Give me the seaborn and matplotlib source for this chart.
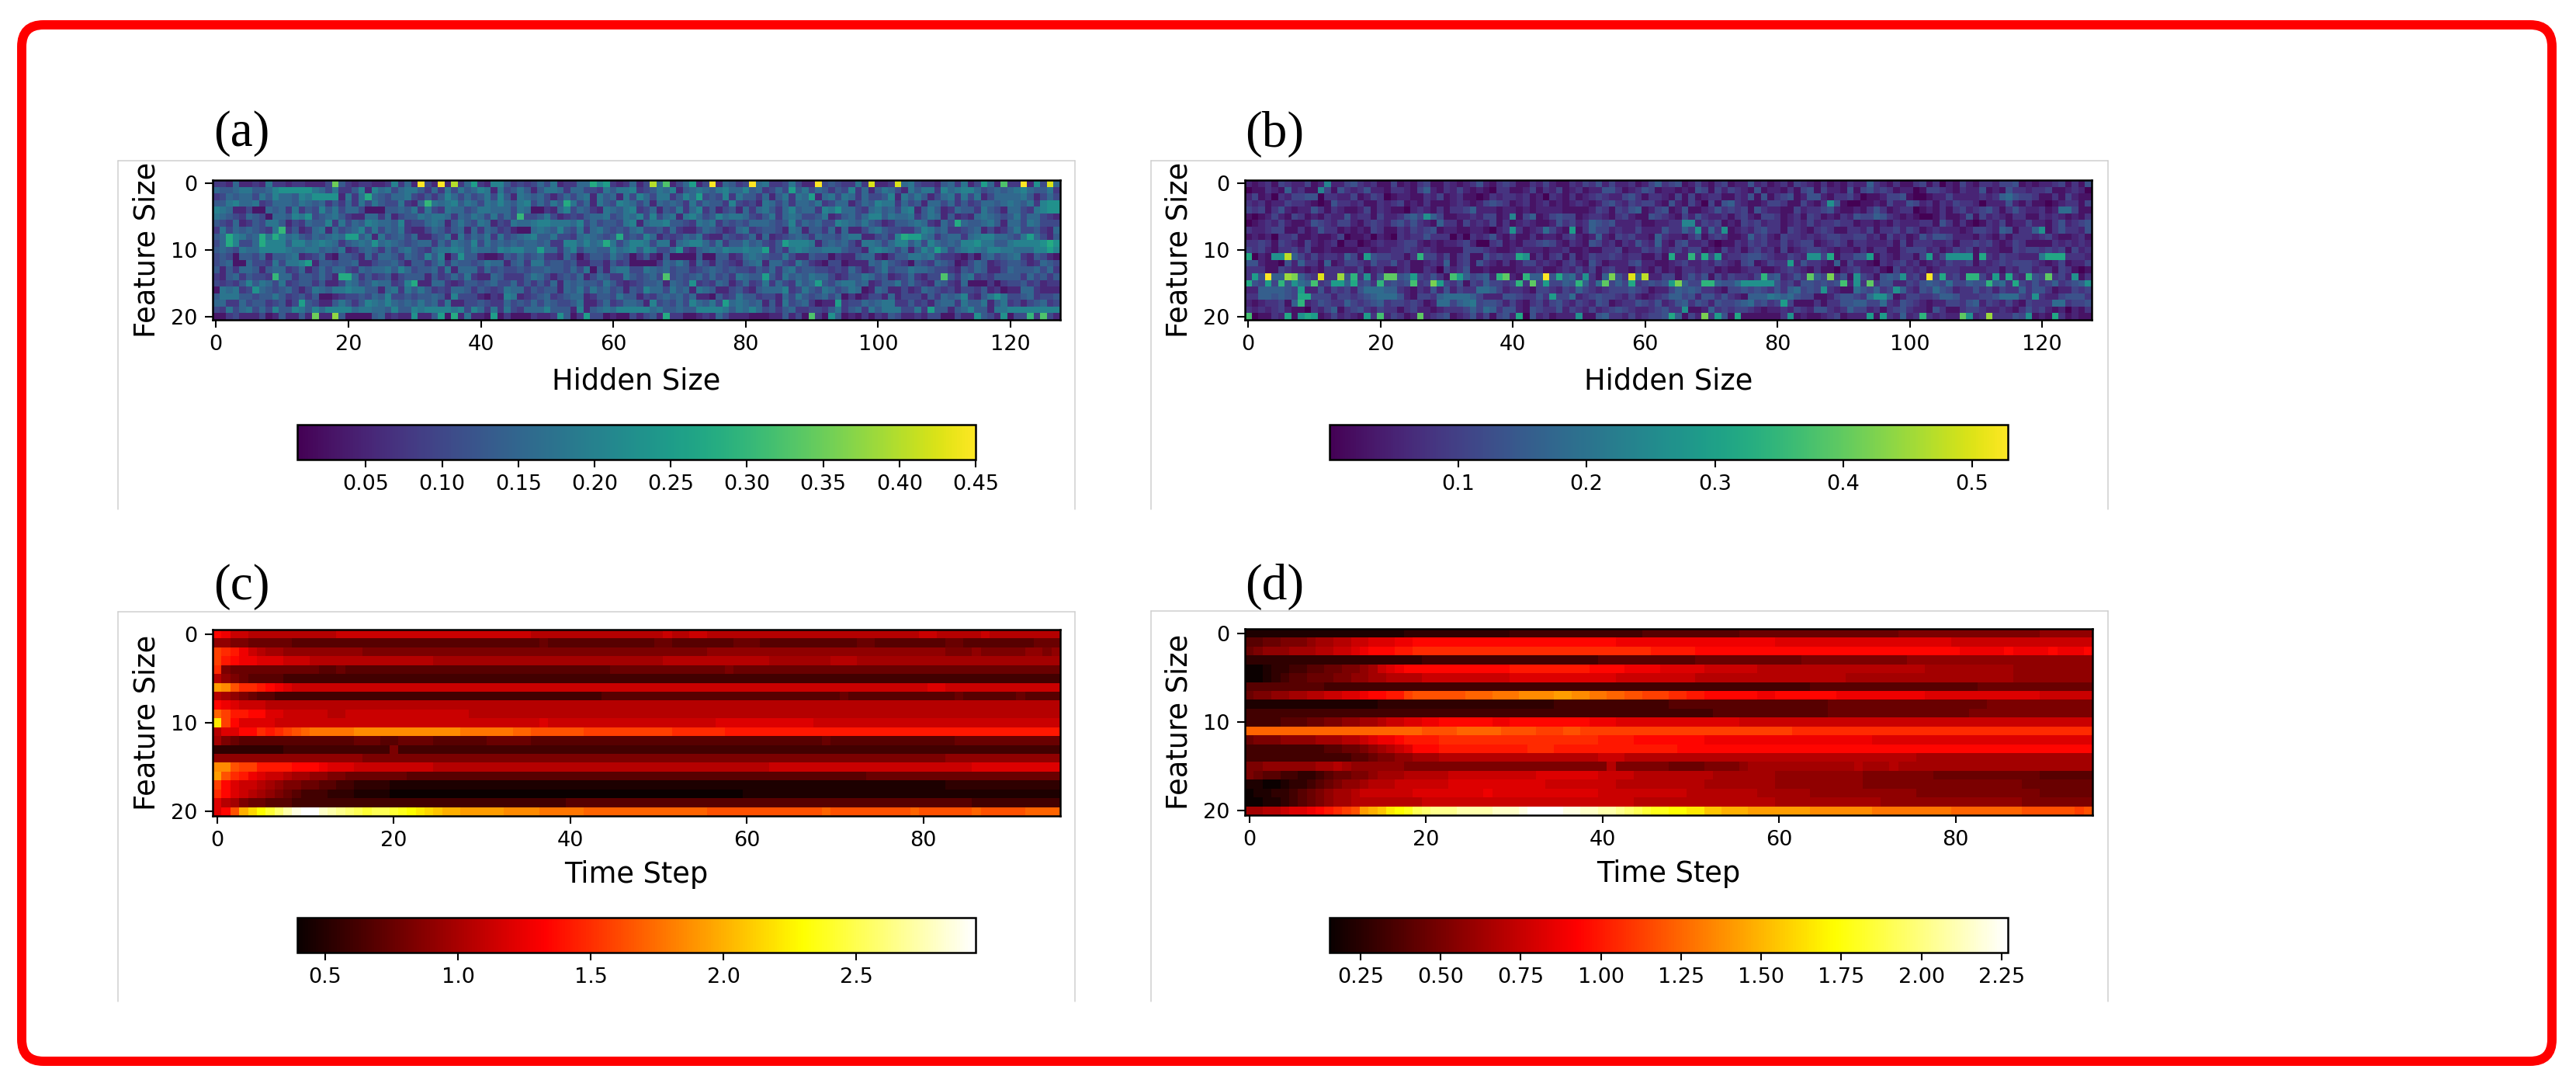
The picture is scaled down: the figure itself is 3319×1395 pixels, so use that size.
"""Recreate the four-panel heatmap figure (hidden states / attention weights)."""

import numpy as np
import matplotlib
matplotlib.use("Agg")
import matplotlib.pyplot as plt
import seaborn as sns
from matplotlib.lines import Line2D
from matplotlib.patches import FancyBboxPatch
from matplotlib.transforms import IdentityTransform

# All cell values. One base-36 character per cell.
# The bright cells in BRIGHT_A / BRIGHT_B are read off; the background speckle in
# ROWS_A / ROWS_B only follows the tone of each row, not every single cell.

W, H = 3319, 1395

HIDDEN_TICKS = [0, 20, 40, 60, 80, 100, 120]
TIME_TICKS = [0, 20, 40, 60, 80]
FEATURE_TICKS = [0, 10, 20]

CBAR_A_TICKS = [0.05, 0.10, 0.15, 0.20, 0.25, 0.30, 0.35, 0.40, 0.45]
CBAR_B_TICKS = [0.1, 0.2, 0.3, 0.4, 0.5]
CBAR_C_TICKS = [0.5, 1.0, 1.5, 2.0, 2.5]
CBAR_D_TICKS = [0.25, 0.50, 0.75, 1.00, 1.25, 1.50, 1.75, 2.00, 2.25]

RANGE_A = (0.005, 0.45)
RANGE_B = (0.0, 0.528)
RANGE_C = (0.395, 2.95)
RANGE_D = (0.153, 2.27)

# panel a: level / 18 of the colour range
ROWS_A = [
    "3326223273 3233222465 3233223836 2342527363 3288534346 4723366284 3236243632 4632432653 4267334742 2845433738 2234674332 5637245627 33625426",
    "6556775568 9999976473 3582867467 7536374756 8727457525 7763664437 5778345768 2567657866 8563464657 4653548362 5764275773 8678864565 67865573",
    "3465664758 6658799992 7372654667 4353586464 5748527656 4246467275 6274864773 5867454837 5536257376 3267476364 4582757524 6737472466 66752464",
    "5578667346 6657656353 6374754473 2647678576 4768657846 4756746275 4876462656 5374655384 3427646366 5734662465 8773645266 4635346656 76573899",
    "8762241165 6373548574 6641115565 7374376645 7766647611 3268465327 6578346254 7368352452 6367536856 6387366436 7564782575 2365537542 66437899",
    "7654365416 6587945675 3226636245 5767763657 6474646445 7423435667 4576848467 2786458677 6435736764 4572356468 8576673576 2523267654 57466432",
    "5436235477 5243655837 4658766583 4467625754 7624376678 8777684645 5478267785 5437673545 4666545846 5644876575 4235567632 6486556752 66476444",
    "3746565437 4352367264 5684746573 2246535626 3653421167 6585473675 4546744536 3224654236 7345542762 5536262246 7544335875 6334562423 57445326",
    "5648756579 8675465676 4557274564 6224572746 5737456785 5744367654 5645486243 4657322543 4626234565 3655467722 4538677763 5663678866 54786425",
    "4668446688 8588678763 5676567654 5663647658 4756565665 6338868674 7468874772 6788647355 7564356888 7256564277 6468857486 5658897755 78888989",
    "5654766888 8766775657 2356536467 5436778757 6658788664 6636846655 8678587446 4325676877 8776353787 6677754427 8764625864 7467876887 76668878",
    "4541554625 5672346215 5426366536 5485814655 2112546456 3326413554 7541352151 1115115523 6765447422 5441322566 2135577674 3321315645 67325421",
    "4561164437 4778125545 5622455642 5535736554 5766256377 4554522442 5341111365 7526425432 5672664375 3214412226 5754315436 5412465234 55423654",
    "5253665256 6346246466 4365667586 4556372666 3645445455 6554647152 6774476564 5534565454 4354636745 5443436423 5745576654 4325465224 65556463",
    "3256354437 6635546426 5635345245 5525346473 2265333576 4245462465 3375456464 5456464537 6552537565 7664235576 4523463244 6536734355 55364535",
    "4343585764 7345535224 7645766348 5226632355 4564463535 3626565547 5323455626 5433436524 6347364375 6354677562 3557464326 5326111313 44534233",
    "1767348654 5642476577 8775526737 5753436653 5434766354 5526574756 4525486647 5627652245 3256668347 5476457612 6522423654 3424435231 22663222",
    "5777554557 5345351123 4454658445 4556528444 2132872345 6345662355 4755243565 6462215347 5534426475 4564613124 4262444253 6568325757 44563445",
    "6633645534 5248542257 5358768656 5756372244 5433645464 6544572246 3466528454 6486574467 6562527456 3122334465 6773353425 6637557257 34245634",
    "4374674648 5587586888 8677665855 8788887848 6373743666 8555282567 6888886755 6558888757 6864535633 4435735637 5777447345 5256855277 88888888",
    "1134222412 5225212245 1111562322 1225312272 2111311132 2335132441 2114245233 3112326422 2111225241 2314512131 3254223244 1142225422 14443242",
]

# (row, column, level)
BRIGHT_A = [
    (0, 18, 14), (0, 31, 18), (0, 34, 18), (0, 36, 16), (0, 39, 10), (0, 57, 11), (0, 59, 10),
    (0, 66, 16), (0, 68, 13), (0, 72, 10), (0, 75, 18), (0, 81, 18), (0, 91, 18), (0, 99, 17),
    (0, 103, 17), (0, 116, 10), (0, 119, 13), (0, 122, 18), (0, 124, 9), (0, 126, 17),
    (20, 15, 14), (20, 18, 15), (20, 30, 9), (20, 34, 10), (20, 36, 11), (20, 42, 10),
    (20, 52, 9), (20, 56, 10), (20, 68, 11), (20, 90, 13), (20, 93, 9), (20, 115, 9),
    (20, 119, 9), (20, 123, 12), (20, 125, 13),
    (2, 23, 11), (3, 32, 12), (5, 46, 12), (3, 53, 11), (7, 10, 12), (8, 2, 11), (9, 2, 11),
    (8, 7, 11), (9, 7, 11), (8, 9, 11), (8, 20, 10), (8, 21, 10), (9, 24, 9), (9, 59, 11),
    (8, 61, 11), (10, 49, 10), (11, 37, 9), (12, 14, 10), (14, 9, 12), (14, 19, 11),
    (14, 20, 11), (15, 30, 11), (16, 6, 9), (18, 13, 10), (1, 87, 10), (2, 90, 10),
    (2, 73, 10), (4, 94, 9), (6, 112, 11), (8, 104, 11), (8, 105, 10), (8, 106, 10),
    (8, 123, 10), (9, 126, 11), (10, 126, 10), (9, 86, 10), (10, 83, 10), (10, 109, 10),
    (10, 70, 9), (14, 68, 13), (14, 110, 13), (14, 83, 10), (15, 91, 10), (15, 72, 9),
    (18, 77, 10), (18, 94, 10), (17, 118, 9), (19, 108, 10),
]

# panel b: level / 20 of the colour range
ROWS_B = [
    "2123143224 1232245323 1141213411 3212352134 3113242113 2435242231 2463451242 1341225231 2314321312 1322632131 1341302142 1332445121 22341315",
    "0113216231 1041532352 2133214621 3242121033 1124132412 3122553123 5412212154 1424321512 2131451422 1514534312 2014432132 2512153323 34112320",
    "2412032445 5033224124 3012211324 1231101323 3231203213 1234322453 1332141412 3311325151 3451255213 3420112445 1001224222 2323675443 11314211",
    "3231224332 1015332311 3234121311 1232124543 1231231212 3212453243 4421521420 4156321124 4311421325 1001121422 5423132433 2022252131 10123314",
    "4341352122 5313211241 3211023213 1334622212 2121222211 1124314356 1245125112 3534341532 2114233452 1121353123 3012131342 3453135322 31277411",
    "1012421431 2132252331 4223564264 1122324412 3146124544 1233213421 1543214253 2231342144 3123143121 3254465321 2100131125 1423213311 32321213",
    "0123242112 5432442134 3245353216 3314232413 1232112534 2365452223 1122333324 3412143423 3123242334 3312212132 2233153131 0132412242 21352345",
    "3223441131 2533121214 3113243451 2211221023 2312374212 1364423224 2225336422 6321232453 3143213431 1332413342 4312322212 4432651336 31353325",
    "1212033411 2112401120 2103233533 3020323521 3113122134 2126214342 2163221351 3431126342 1433232344 3344231423 1253554222 1321313332 34211231",
    "3343143214 2123022012 3223442121 2234200341 2133454213 2154231325 3262145223 1011324342 2423441234 3133222314 1333223133 4342124311 11323232",
    "4342133424 1121111221 2233432321 1114443211 2322212231 1211334122 4342342441 2142313423 1412344321 2213133113 4442312434 1322114344 34341423",
    "8021557642 4233264125 4433132442 4134115343 3421313414 1243343233 1131322332 4123345543 2243245441 3355513213 3146245553 1332433222 87253332",
    "5521105263 3161244325 3352311232 6134153213 1244232134 2153122245 2211234223 2432145124 3312533216 1422103234 2312324334 1323434443 21241224",
    "3331143221 2133322412 3112311320 4235112111 1222311232 4241342213 2131213323 3121123311 2343213110 2342231042 3231233322 2233132442 33143101",
    "3354664664 3233557352 5425654353 1456456252 2136635367 3531645366 4224413535 1424332435 6235336463 5144315655 3425463425 6423243235 45342313",
    "5546475676 4344366453 6454563454 4351436443 4735454465 5637746453 4545336443 3655776555 5342554545 5263635522 4356547446 5536735435 34634563",
    "2266665432 2524342577 7663213252 5243377642 3321443243 6432344454 3122465653 3214454543 5367454332 1175463426 3254754233 5342433635 53122434",
    "3366565422 4442443456 7775214436 7777642225 5433533447 2345443242 1234664525 5353216668 7675441124 5543773612 4433466533 3445777435 32245553",
    "2123341662 3543364345 6344343127 7467845542 4213424532 4325412335 4352356354 2544567453 4541113133 5566447325 4321224435 6243242143 33773445",
    "3232342110 3246134532 4331342212 3334647635 5215433524 3242345432 2345332112 6343443212 2324325532 3644231345 3221531134 4322321353 42120213",
    "2011322135 1124232113 3243121234 5123524145 2105231222 4115633242 3445261422 3151411111 1311211234 1222313326 2323232221 2343335421 21331211",
]

BRIGHT_B = [
    (11, 0, 12), (11, 6, 18), (11, 4, 10), (11, 5, 10), (11, 18, 11), (11, 26, 13), (11, 41, 12),
    (11, 42, 10), (14, 3, 20), (14, 1, 11), (14, 6, 17), (14, 7, 16), (14, 11, 19), (14, 14, 17),
    (14, 16, 13), (14, 18, 10), (14, 21, 15), (14, 22, 15), (14, 25, 11), (14, 31, 14),
    (14, 32, 11), (14, 38, 13), (14, 39, 15), (14, 42, 13), (14, 45, 20), (14, 47, 12),
    (14, 51, 10), (14, 55, 16), (15, 0, 12), (15, 3, 11), (15, 5, 13), (15, 7, 10), (15, 10, 14),
    (15, 13, 11), (15, 14, 11), (15, 16, 12), (15, 20, 13), (15, 25, 14), (15, 28, 16),
    (15, 29, 11), (15, 41, 13), (15, 43, 15), (15, 45, 11), (15, 50, 13), (15, 54, 15),
    (16, 8, 11), (17, 8, 12), (17, 9, 12), (18, 8, 13), (17, 46, 11), (20, 0, 14), (20, 6, 12),
    (20, 8, 10), (20, 9, 12), (20, 10, 11), (20, 18, 11), (20, 20, 14), (20, 26, 15), (20, 41, 12),
    (20, 50, 10), (7, 49, 11), (7, 40, 10), (5, 40, 9), (5, 27, 10), (1, 11, 9), (0, 12, 9),
    (14, 58, 19), (14, 60, 18), (14, 78, 13), (14, 85, 15), (14, 88, 16), (14, 92, 10), (14, 99, 10),
    (14, 103, 20), (14, 105, 12), (14, 109, 13), (14, 110, 13), (14, 113, 11), (14, 115, 12),
    (14, 118, 13), (14, 121, 15), (14, 125, 10), (15, 58, 12), (15, 64, 11), (15, 65, 16),
    (15, 69, 13), (15, 70, 13), (15, 75, 10), (15, 76, 10), (15, 77, 10), (15, 78, 10), (15, 79, 10),
    (15, 90, 14), (15, 92, 10), (15, 94, 15), (15, 112, 13), (15, 116, 12), (15, 127, 10),
    (11, 64, 12), (11, 67, 13), (11, 69, 12), (11, 71, 11), (11, 85, 10), (11, 86, 10), (11, 88, 12),
    (11, 94, 11), (11, 103, 11), (11, 106, 10), (11, 107, 10), (11, 108, 10), (11, 109, 10),
    (11, 111, 12), (11, 121, 12), (11, 122, 12), (11, 123, 12), (20, 64, 12), (20, 69, 16),
    (20, 71, 11), (20, 74, 12), (20, 82, 10), (20, 94, 11), (20, 96, 11), (20, 102, 13), (20, 108, 15),
    (20, 109, 10), (20, 112, 17), (20, 118, 10), (20, 122, 12), (7, 68, 10), (7, 72, 10), (6, 66, 9),
    (6, 67, 9), (3, 88, 10), (18, 81, 11), (19, 66, 10), (12, 82, 11), (7, 120, 10), (16, 87, 10),
    (16, 98, 10), (17, 95, 10), (17, 96, 10), (17, 119, 10),
]

# panels c and d: level / 35 of the colour range
ROWS_C = [
    "dcaa999999 9999aaaaaa aaaaaaaaaa aaaaaa9999 9999999999 9a99aa9999 9999999999 9999999999 aa99999a99 999999",
    "7766555554 4444444444 4444444444 4444444544 4444444444 5544444445 5544444444 4445544444 4445544444 444555",
    "gfeca98877 7777777666 6666666666 6666666666 6666666666 6666667777 7777777777 7777777777 7776667666 667767",
    "gedccbbbaa a999999999 9999988888 8888888888 8888888888 8999999999 9998888888 9998888888 8888888888 888888",
    "f655555555 5544544444 4444444444 4444444444 4444455555 5555555565 5555555555 5555555555 5555555555 555555",
    "9765444433 3333333333 3333333333 3333333333 3333333333 3333333333 3333333333 3333333333 3333333333 333333",
    "lkhffedcba aaaaaaaaaa aaaaaaaaaa aaaaaaaaaa aaaaaaaaaa aaaaaaaaaa aaaaaaaaaa aaaaaaaaaa abbaaaaaaa aaaaaa",
    "9876544333 3333333333 3333333333 3333333333 3333444444 4444444444 4444444444 4544444444 4444544444 454444",
    "dcbaaa9999 9999999999 9999999999 9999999999 9999999999 9999999999 9999999999 9999999999 9999999999 999999",
    "igeeddbbaa aaa99aaaaa aaaaaaaaa9 9999999999 9999999999 9999999999 9999999999 9999999999 9999999999 999999",
    "pgdbbbbaaa aaaaaaaaaa aaaaaaaaaa aaaaaaabaa aaaaaaaaaa aaaaaaabbb bbbbbbbbaa aaaaaaaaaa aaaaaaaaaa aaaaaa",
    "9bbddfefgh ijjjjjkkkk kkkkkkkkjj jjjjiihhhh hhgggggggg ggffffffee eeeeeeeeee eeeeeeeeee eeeeeeeeee eeeeee",
    "8654444444 4444445554 4555544444 4555554444 4444444444 4444444444 4444444445 4444444444 4444555555 555555",
    "2222222233 3333333333 6333333333 3333333333 3333333333 3333333333 3333333333 3333333333 3333333333 333333",
    "7777777777 7777777666 6666666666 6666666666 6666666666 6666666666 6666666666 6666666666 6667777777 777777",
    "kkhggeeeed ddcbbbaaaa aaaaa99999 9999999999 9999999999 9999999999 999aaaaaaa aaaaaaaaaa aaaaaabbbb bbbbbb",
    "lhfecbaa98 8776655555 5544444444 4444444444 4444444444 4444444444 4444444444 4444555555 5555555555 555555",
    "gdbaa98766 5544332222 1111111111 1111111111 1111111111 1111111111 1111111111 1111111111 1112222222 222222",
    "fdba987654 3332221111 0000000000 0000000000 0000000000 0000000000 1111111111 1111111111 1111111111 111111",
    "b986554443 3333333333 3333333333 3333333333 4444444444 4444444444 4444444444 4444444444 4444443333 333333",
    "bdhmoqsuwy zzxwvutstt srqponmmll lllkkkkjjj jjiiiiiiii iiiiiihhhh hhhhhhhhhi hhhhhhhhhi hhhhhhihhh hhiiii",
]

ROWS_D = [
    "1111111111 1111111122 2222222222 3333333333 3333344444 4444445555 5555555555 5555666666 6666666666 777777",
    "4455666788 99aabbbccd dddddddddd dddddddddd ddcccccccc cccccccccc bbbbbbbbbb bbbbbbbbbb aaaaaaaaaa aaaaaa",
    "5677788899 aabcdddeef ffffffffff ffffffffff ffffffeeee eddddddddd dddddddddd dddddddddd dcccccdccc cdcccd",
    "2222222222 2222222222 3333333333 3333333333 4444444444 4555555555 5556666666 6666677777 7777777777 777777",
    "0012233445 56678abcdd dddddddddd eeeeeeeeed dddccccbbb bbaaaaaa99 9999999999 9999999888 8888888777 777777",
    "0012344555 6677889999 aaaaaaaaaa bbbbbbbbbb bbaaaaaaaa a999999999 9999999988 8888888888 8888888777 777777",
    "4444444443 3333333333 3333333333 3333333333 3333333333 3333333333 3333444444 4444444444 4445555555 555555",
    "566778899a abbcddeegh hhhhhiiijj jkkkkllkkj jiihhgggff eeddddddcc dddddddccc cccccccbbb bbbbbbbbbb aaaaaa",
    "1111111111 1111122222 2222222222 2222233333 3333333344 4444444444 4444445555 5555555555 5555666666 666666",
    "3333333333 3333333333 3333333333 3333333333 3333333333 3334444444 4444445555 5555555555 5566666666 666666",
    "3333444556 677889aabb ccddddddcc dddddddddc ccbbbbbbbb bbbbbbaaaa aaaaaaaaaa aaaaaaaaaa aaaaaaaaaa aaaaaa",
    "iiiiiiiiii iiiiiiiiii hhhhiiiiih hhhggghhgg gggggggggg gggggggggg ggffffffff ffffffffff ffffffffff ffffff",
    "5666777788 899abccdee eeffffffff ffffffffff eeeedddddd ddcccccccc cccccccccc cbbbbbbbbb bbbbbbbbbb bbbbbb",
    "3333333334 4556789abd ddeeeeeeee eefffeeeee eeeeeeeeed dddddddddd dddddddddd dddddddddd dddddddddd dddddd",
    "3333333333 3344566778 8899999999 9999999999 aaa9999999 9999999999 9999999999 9999998888 8888888888 888888",
    "6677777788 9877777766 6666666666 6666666666 6966666655 5566667888 8888888889 8889888888 8888888888 888888",
    "6544332234 5566788899 999aaaaaaa aaabbbbbbb aaaa999999 9998888888 7777777777 6666666655 5555555555 444444",
    "1100122345 6778999aaa aaabbbbbbb bbbbaaaaaa aa99999999 9988888888 7777777777 6666666666 6666666655 555555",
    "0112234567 889aaaaaab bbbbbbbcbb bbbbbbbbbb aaaaaaaaaa 9999999988 8888777777 7777776666 6666666666 555555",
    "0011234567 8899999999 aaaaaaaaaa aaaaaaaaaa aaaa999999 9999999999 8888888888 8877777777 7777777766 666666",
    "8899abbcde fghlmnpqrt uvvvwwwwxx xyzzzzyyxx wwvutsrrqq ppnnmmmlll llllkkkkkk kjjjjjjjjj iiiiiiiihh hhhhgh",
]


def decode(rows, value_range, levels, bright=()):
    """Turn level strings into a value matrix."""
    grid = np.array([[int(c, 36) for c in "".join(r.split())] for r in rows], dtype=float)
    for row, col, level in bright:
        grid[row, col] = level
    low, high = value_range
    return low + grid / levels * (high - low)


def box(x0, y0, x1, y1):
    """Pixel box (y from the top) to figure fractions."""
    return [x0 / W, 1 - y1 / H, (x1 - x0) / W, (y1 - y0) / H]


def draw_panel(fig, data, value_range, cmap, ax_box, cbar_box, x_ticks, x_label, cbar_ticks, cbar_fmt):
    ax = fig.add_axes(box(*ax_box))
    cax = fig.add_axes(box(*cbar_box))
    sns.heatmap(
        data,
        vmin=value_range[0],
        vmax=value_range[1],
        cmap=cmap,
        ax=ax,
        cbar_ax=cax,
        cbar_kws={"orientation": "horizontal", "ticks": cbar_ticks, "format": cbar_fmt},
        xticklabels=False,
        yticklabels=False,
    )
    ax.set_xticks([t + 0.5 for t in x_ticks], [str(t) for t in x_ticks], rotation=0)
    ax.set_yticks([t + 0.5 for t in FEATURE_TICKS], [str(t) for t in FEATURE_TICKS], rotation=0)
    ax.tick_params(length=7, width=1.5, labelsize=TICK_SIZE, pad=7, color="black",
                   bottom=True, left=True, labelcolor="black")
    for spine in ax.spines.values():
        spine.set_visible(True)
        spine.set_linewidth(1.8)
        spine.set_color("black")

    height = ax_box[3] - ax_box[1]
    width = ax_box[2] - ax_box[0]
    ax.set_xlabel(x_label, fontsize=LABEL_SIZE, color="black", va="top")
    ax.xaxis.set_label_coords(0.5, -(60 if height < 200 else 57) / height)
    ax.set_ylabel("Feature Size", fontsize=LABEL_SIZE, color="black", va="bottom")
    ax.yaxis.set_label_coords(-66 / width, 0.5)

    cax.tick_params(length=7, width=1.5, labelsize=TICK_SIZE, pad=7, color="black",
                    bottom=True, labelcolor="black")
    cbar = ax.collections[0].colorbar
    cbar.outline.set_visible(True)
    cbar.outline.set_linewidth(1.8)
    cbar.outline.set_edgecolor("black")
    return ax


def frame_lines(fig, x0, y0, x1, y1):
    """Grey crop edges around a panel: left, top, right."""
    for xs, ys in [([x0, x0], [y0, y1]), ([x0, x1], [y0, y0]), ([x1, x1], [y0, y1])]:
        fig.add_artist(Line2D([x / W for x in xs], [1 - y / H for y in ys],
                              color="#cfcfcf", linewidth=1.1))


sns.set_theme(style="white")
plt.rcParams["font.family"] = ["DejaVu Sans"]
TICK_SIZE = 19.5
LABEL_SIZE = 26.5

data_a = decode(ROWS_A, RANGE_A, 18, BRIGHT_A)
data_b = decode(ROWS_B, RANGE_B, 20, BRIGHT_B)
data_c = decode(ROWS_C, RANGE_C, 35)
data_d = decode(ROWS_D, RANGE_D, 35)

fig = plt.figure(figsize=(W / 100, H / 100), dpi=100, facecolor="white")

frame_lines(fig, 152, 207, 1385, 656)
frame_lines(fig, 1483, 207, 2716, 656)
frame_lines(fig, 152, 788, 1385, 1290)
frame_lines(fig, 1483, 787, 2716, 1290)

draw_panel(fig, data_a, RANGE_A, "viridis", (274, 232, 1366, 412), (383, 547, 1257, 592),
           HIDDEN_TICKS, "Hidden Size", CBAR_A_TICKS, "%.2f")
draw_panel(fig, data_b, RANGE_B, "viridis", (1604, 232, 2695, 412), (1713, 547, 2587, 592),
           HIDDEN_TICKS, "Hidden Size", CBAR_B_TICKS, "%.1f")
draw_panel(fig, data_c, RANGE_C, "hot", (274, 811, 1366, 1051), (383, 1182, 1257, 1227),
           TIME_TICKS, "Time Step", CBAR_C_TICKS, "%.1f")
draw_panel(fig, data_d, RANGE_D, "hot", (1604, 810, 2696, 1050), (1713, 1182, 2587, 1227),
           TIME_TICKS, "Time Step", CBAR_D_TICKS, "%.2f")

for label, x, y in [("(a)", 275, 188), ("(b)", 1604, 189), ("(c)", 275, 772), ("(d)", 1604, 772)]:
    fig.text(x / W, 1 - y / H, label, family="Liberation Serif", fontsize=47,
             color="black", ha="left", va="baseline")

# red rounded border, in pixel coordinates
fig.add_artist(FancyBboxPatch((28, H - 1367), 3260, 1335,
                              boxstyle="round,pad=0,rounding_size=28",
                              transform=IdentityTransform(), fill=False,
                              edgecolor="#ff0000", linewidth=8.6))

fig.savefig("out.png", dpi=100, facecolor="white")
plt.close(fig)
